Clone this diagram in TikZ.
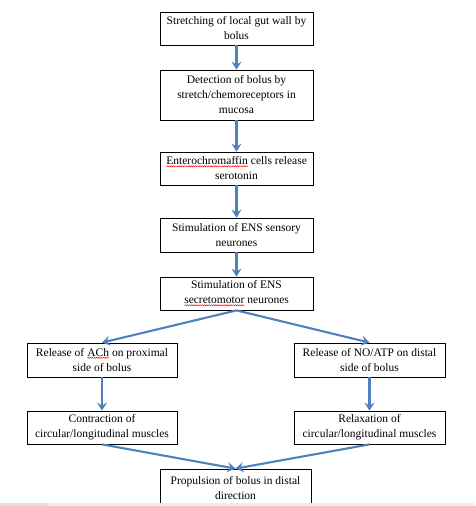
\documentclass[tikz,border=0pt]{standalone}
\usepackage{fontspec}
\setmainfont{Liberation Serif}
\usetikzlibrary{arrows.meta,decorations.pathmorphing}
\definecolor{arrowblue}{RGB}{79,129,189}
\definecolor{stripgray}{RGB}{238,238,238}
\definecolor{stripdark}{RGB}{222,222,222}
\newcommand\spellmark[1]{\tikz[baseline=(sw.base)]{\node[inner sep=0pt,outer sep=0pt,minimum width=0pt,minimum height=0pt,draw=none,fill=none] (sw) {#1};\draw[red,line width=0.45pt,decorate,decoration={snake,amplitude=0.6pt,segment length=2.2pt}] ([yshift=-1.2pt]sw.south west) -- ([yshift=-1.2pt]sw.south east);}}
\begin{document}
\begin{tikzpicture}[x=1pt,y=-1pt,
  box/.style={draw=black,line width=0.8pt,fill=white,inner sep=2pt,minimum width=153pt,align=center,font=\fontsize{11.5}{15}\selectfont},
  arr/.style={draw=arrowblue,line width=2.1pt,-{Stealth[length=8pt,width=10pt,inset=3pt]}}]
\fill[white] (0,0) rectangle (475,506);
\useasboundingbox (0,0) rectangle (475,506);
\node[box,minimum height=33pt] (b1) at (236.5,28.5) {Stretching of local gut wall by\\bolus};
\node[box,minimum height=50pt] (b2) at (236.5,95) {Detection of bolus by\\stretch/chemoreceptors in\\mucosa};
\node[box,minimum height=33pt] (b3) at (236.5,168.5) {\spellmark{Enterochromaffin} cells release\\serotonin};
\node[box,minimum height=34pt] (b4) at (236.5,235) {Stimulation of ENS sensory\\neurones};
\node[box,minimum height=33pt] (b5) at (236.5,293.5) {Stimulation of ENS\\\spellmark{secretomotor} neurones};
\node[box,minimum width=150pt,minimum height=34pt] (l1) at (102,360) {Release of \spellmark{ACh} on proximal\\side of bolus};
\node[box,minimum width=150pt,minimum height=33pt] (l2) at (102,427.5) {Contraction of\\circular/longitudinal muscles};
\node[box,minimum width=151pt,minimum height=34pt] (r1) at (369.5,360) {Release of NO/ATP on distal\\side of bolus};
\node[box,minimum width=151pt,minimum height=33pt] (r2) at (369.5,427.5) {Relaxation of\\circular/longitudinal muscles};
\node[box,minimum width=151pt,minimum height=38pt] (b8) at (235.5,488) {Propulsion of bolus in distal\\direction};
\draw[arr] (b1) -- (b2);
\draw[arr] (b2) -- (b3);
\draw[arr] (b3) -- (b4);
\draw[arr] (b4) -- (b5);
\draw[arr] (b5.south) -- (l1.north);
\draw[arr] (b5.south) -- (r1.north);
\draw[arr] (l1) -- (l2);
\draw[arr] (r1) -- (r2);
\draw[arr] (l2.south) -- (b8.north);
\draw[arr] (r2.south) -- (b8.north);
\fill[stripgray] (0,503) rectangle (475,506);
\fill[stripdark] (0,503) rectangle (47,506);
\end{tikzpicture}
\end{document}
